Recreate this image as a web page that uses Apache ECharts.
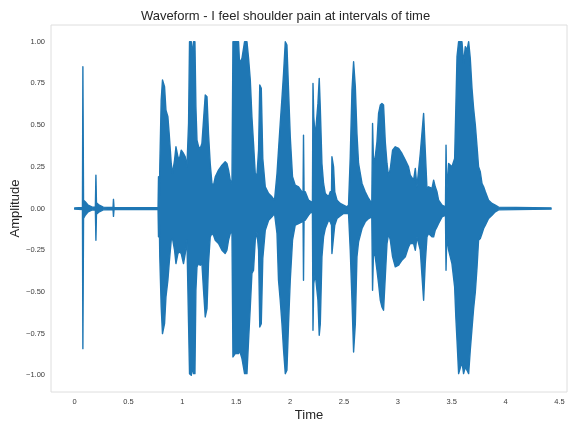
<!DOCTYPE html>
<html>
<head>
<meta charset="utf-8">
<script src="https://cdn.jsdelivr.net/npm/echarts@6/dist/echarts.min.js"></script>
<style>
  html, body { margin: 0; padding: 0; background: #ffffff; }
  #chart { width: 571px; height: 424px; }
</style>
</head>
<body>
<div id="chart"></div>
<script>
// Audio waveform summarised as a min/max envelope (time in seconds, amplitude in [-1, 1]).
const timeSec = [
  0.000, 0.072, 0.076, 0.082, 0.098, 0.125, 0.163, 0.192, 0.197, 0.202,
  0.228, 0.265, 0.356, 0.360, 0.365, 0.774, 0.778, 0.784, 0.790, 0.803,
  0.815, 0.834, 0.847, 0.865, 0.877, 0.896, 0.908, 0.927, 0.940, 0.958,
  0.970, 0.989, 1.010, 1.026, 1.042, 1.057, 1.066, 1.082, 1.094, 1.103,
  1.116, 1.125, 1.135, 1.150, 1.165, 1.181, 1.196, 1.212, 1.228, 1.242,
  1.258, 1.274, 1.289, 1.305, 1.335, 1.367, 1.397, 1.413, 1.428, 1.444,
  1.460, 1.469, 1.490, 1.521, 1.530, 1.553, 1.577, 1.599, 1.614, 1.630,
  1.645, 1.660, 1.676, 1.692, 1.707, 1.718, 1.732, 1.746, 1.769, 1.800,
  1.831, 1.855, 1.878, 1.892, 1.908, 1.924, 1.939, 1.955, 1.970, 1.985,
  2.001, 2.022, 2.047, 2.078, 2.110, 2.120, 2.124, 2.129, 2.140, 2.171,
  2.196, 2.207, 2.212, 2.219, 2.233, 2.258, 2.270, 2.280, 2.295, 2.310,
  2.326, 2.357, 2.372, 2.384, 2.388, 2.403, 2.414, 2.435, 2.465, 2.496,
  2.527, 2.542, 2.558, 2.574, 2.589, 2.605, 2.620, 2.635, 2.667, 2.697,
  2.728, 2.758, 2.765, 2.774, 2.790, 2.806, 2.821, 2.837, 2.852, 2.867,
  2.883, 2.899, 2.914, 2.930, 2.951, 2.976, 3.007, 3.038, 3.069, 3.099,
  3.115, 3.146, 3.162, 3.177, 3.208, 3.239, 3.254, 3.270, 3.285, 3.317,
  3.332, 3.347, 3.363, 3.378, 3.410, 3.442, 3.447, 3.454, 3.471, 3.502,
  3.527, 3.538, 3.549, 3.564, 3.595, 3.610, 3.626, 3.642, 3.657, 3.672,
  3.688, 3.703, 3.719, 3.735, 3.749, 3.765, 3.781, 3.796, 3.812, 3.842,
  3.874, 3.904, 3.935, 4.422
];

const envelopeUpper = [
  0.004, 0.006, 0.85, 0.05, 0.04, 0.02, 0.008, 0.01, 0.20, 0.035,
  0.02, 0.008, 0.006, 0.055, 0.006, 0.005, 0.19, 0.01, 0.25, 0.65,
  0.77, 0.73, 0.59, 0.55, 0.45, 0.27, 0.21, 0.29, 0.37, 0.31,
  0.29, 0.35, 0.33, 0.31, 0.25, 0.51, 1.00, 1.00, 0.92, 1.00,
  1.00, 0.61, 0.41, 0.37, 0.36, 0.39, 0.53, 0.68, 0.67, 0.45,
  0.27, 0.15, 0.14, 0.19, 0.23, 0.26, 0.28, 0.27, 0.23, 0.17,
  0.15, 1.00, 1.00, 1.00, 0.87, 0.90, 1.00, 1.00, 0.90, 0.77,
  0.55, 0.39, 0.21, 0.20, 0.35, 0.74, 0.72, 0.30, 0.13, 0.09,
  0.07, 0.05, 0.21, 0.35, 0.51, 0.66, 0.81, 1.00, 0.98, 0.71,
  0.43, 0.19, 0.14, 0.13, 0.10, 0.10, 0.44, 0.10, 0.10, 0.05,
  0.04, 0.04, 0.75, 0.55, 0.43, 0.63, 0.78, 0.60, 0.27, 0.15,
  0.09, 0.07, 0.10, 0.10, 0.31, 0.25, 0.10, 0.05, 0.03, 0.02,
  0.01, 0.02, 0.31, 0.71, 0.88, 0.73, 0.45, 0.27, 0.15, 0.10,
  0.06, 0.03, 0.51, 0.27, 0.31, 0.40, 0.57, 0.62, 0.63, 0.62,
  0.40, 0.27, 0.19, 0.24, 0.35, 0.37, 0.36, 0.33, 0.29, 0.25,
  0.20, 0.17, 0.24, 0.13, 0.33, 0.57, 0.35, 0.12, 0.13, 0.12,
  0.17, 0.13, 0.10, 0.05, 0.02, 0.01, 0.38, 0.10, 0.27, 0.25,
  0.30, 0.60, 0.91, 1.00, 1.00, 0.87, 0.97, 0.95, 1.00, 0.90,
  0.72, 0.60, 0.50, 0.37, 0.25, 0.22, 0.15, 0.13, 0.10, 0.05,
  0.03, 0.02, 0.008, 0.004
];

const envelopeLower = [
  -0.004, -0.006, -0.84, -0.06, -0.04, -0.02, -0.008, -0.01, -0.19, -0.035,
  -0.02, -0.008, -0.006, -0.047, -0.006, -0.005, -0.17, -0.01, -0.29, -0.59,
  -0.75, -0.69, -0.53, -0.43, -0.33, -0.19, -0.18, -0.25, -0.33, -0.27,
  -0.26, -0.27, -0.33, -0.27, -0.19, -0.69, -0.99, -1.00, -0.95, -0.99,
  -0.99, -0.49, -0.35, -0.33, -0.34, -0.33, -0.49, -0.65, -0.60, -0.33,
  -0.17, -0.15, -0.16, -0.19, -0.21, -0.25, -0.27, -0.25, -0.19, -0.15,
  -0.14, -0.89, -0.87, -0.87, -0.85, -0.90, -0.99, -0.99, -0.79, -0.59,
  -0.39, -0.37, -0.19, -0.14, -0.25, -0.71, -0.69, -0.30, -0.13, -0.07,
  -0.05, -0.03, -0.15, -0.43, -0.55, -0.69, -0.85, -0.99, -0.97, -0.69,
  -0.43, -0.19, -0.10, -0.09, -0.08, -0.07, -0.43, -0.07, -0.07, -0.04,
  -0.02, -0.03, -0.73, -0.45, -0.39, -0.55, -0.76, -0.69, -0.29, -0.17,
  -0.12, -0.07, -0.08, -0.10, -0.27, -0.17, -0.10, -0.06, -0.045, -0.03,
  -0.03, -0.03, -0.25, -0.55, -0.86, -0.69, -0.29, -0.20, -0.12, -0.08,
  -0.06, -0.05, -0.49, -0.25, -0.29, -0.37, -0.45, -0.55, -0.59, -0.61,
  -0.41, -0.21, -0.15, -0.19, -0.29, -0.35, -0.34, -0.31, -0.29, -0.23,
  -0.21, -0.21, -0.25, -0.17, -0.25, -0.55, -0.33, -0.17, -0.15, -0.17,
  -0.17, -0.13, -0.11, -0.09, -0.05, -0.04, -0.37, -0.17, -0.25, -0.33,
  -0.47, -0.65, -0.79, -0.99, -0.92, -0.99, -0.95, -0.97, -0.99, -0.85,
  -0.72, -0.60, -0.50, -0.35, -0.19, -0.18, -0.15, -0.12, -0.10, -0.06,
  -0.04, -0.02, -0.008, -0.004
];

const chartTitle = 'Waveform - I feel shoulder pain at intervals of time';
const xAxisName = 'Time';
const yAxisName = 'Amplitude';

const waveColor = '#1f77b4';
const fontFamily = '"Liberation Sans", Arial, sans-serif';

const rows = timeSec.map((t, i) => [t, envelopeUpper[i], envelopeLower[i]]);

function isMultiple(v, step) {
  const q = v / step;
  return Math.abs(q - Math.round(q)) < 1e-6;
}

const chart = echarts.init(document.getElementById('chart'), null, { renderer: 'canvas' });

chart.setOption({
  animation: false,
  backgroundColor: '#ffffff',
  title: {
    text: chartTitle,
    left: 'center',
    top: 5,
    textStyle: { fontFamily, fontSize: 13, fontWeight: 'normal', color: '#262626' }
  },
  grid: {
    left: 51, top: 25, right: 4, bottom: 32,
    containLabel: false,
    outerBoundsMode: 'none',
    show: true,
    borderColor: '#dedede',
    borderWidth: 1,
    backgroundColor: '#ffffff'
  },
  xAxis: {
    type: 'value',
    min: -0.22,
    max: 4.57,
    interval: 0.02,
    name: xAxisName,
    nameLocation: 'middle',
    nameGap: 17,
    nameMoveOverlap: false,
    nameTextStyle: { fontFamily, fontSize: 13, color: '#262626' },
    axisLine: { show: false },
    axisTick: { show: false },
    splitLine: { show: false },
    axisLabel: {
      margin: 6,
      fontFamily, fontSize: 7.5, color: '#3a3a3a',
      showMinLabel: false, showMaxLabel: false,
      formatter: v => isMultiple(v, 0.5) ? String(Math.round(v * 2) / 2) : ''
    }
  },
  yAxis: {
    type: 'value',
    min: -1.1,
    max: 1.1,
    interval: 0.05,
    name: yAxisName,
    nameLocation: 'middle',
    nameGap: 29,
    nameMoveOverlap: false,
    nameTextStyle: { fontFamily, fontSize: 13, color: '#262626' },
    axisLine: { show: false },
    axisTick: { show: false },
    splitLine: { show: false },
    axisLabel: {
      margin: 6,
      fontFamily, fontSize: 7.5, color: '#3a3a3a',
      formatter: v => {
        if (!isMultiple(v, 0.25)) return '';
        const r = Math.round(v * 4) / 4;
        return r < 0 ? '\u2212' + Math.abs(r).toFixed(2) : r.toFixed(2);
      }
    }
  },
  series: [{
    type: 'custom',
    name: 'waveform',
    data: rows,
    encode: { x: 0, y: [1, 2] },
    renderItem: function (params, api) {
      // The whole envelope is one closed outline: upper edge forward, lower edge back.
      if (params.dataIndex !== 0) return null;
      const pts = [];
      for (let i = 0; i < rows.length; i++) pts.push(api.coord([rows[i][0], rows[i][1]]));
      for (let i = rows.length - 1; i >= 0; i--) pts.push(api.coord([rows[i][0], rows[i][2]]));
      return {
        type: 'polygon',
        shape: { points: pts },
        style: { fill: waveColor, stroke: waveColor, lineWidth: 1.4, lineJoin: 'round' }
      };
    }
  }]
});
</script>
</body>
</html>
